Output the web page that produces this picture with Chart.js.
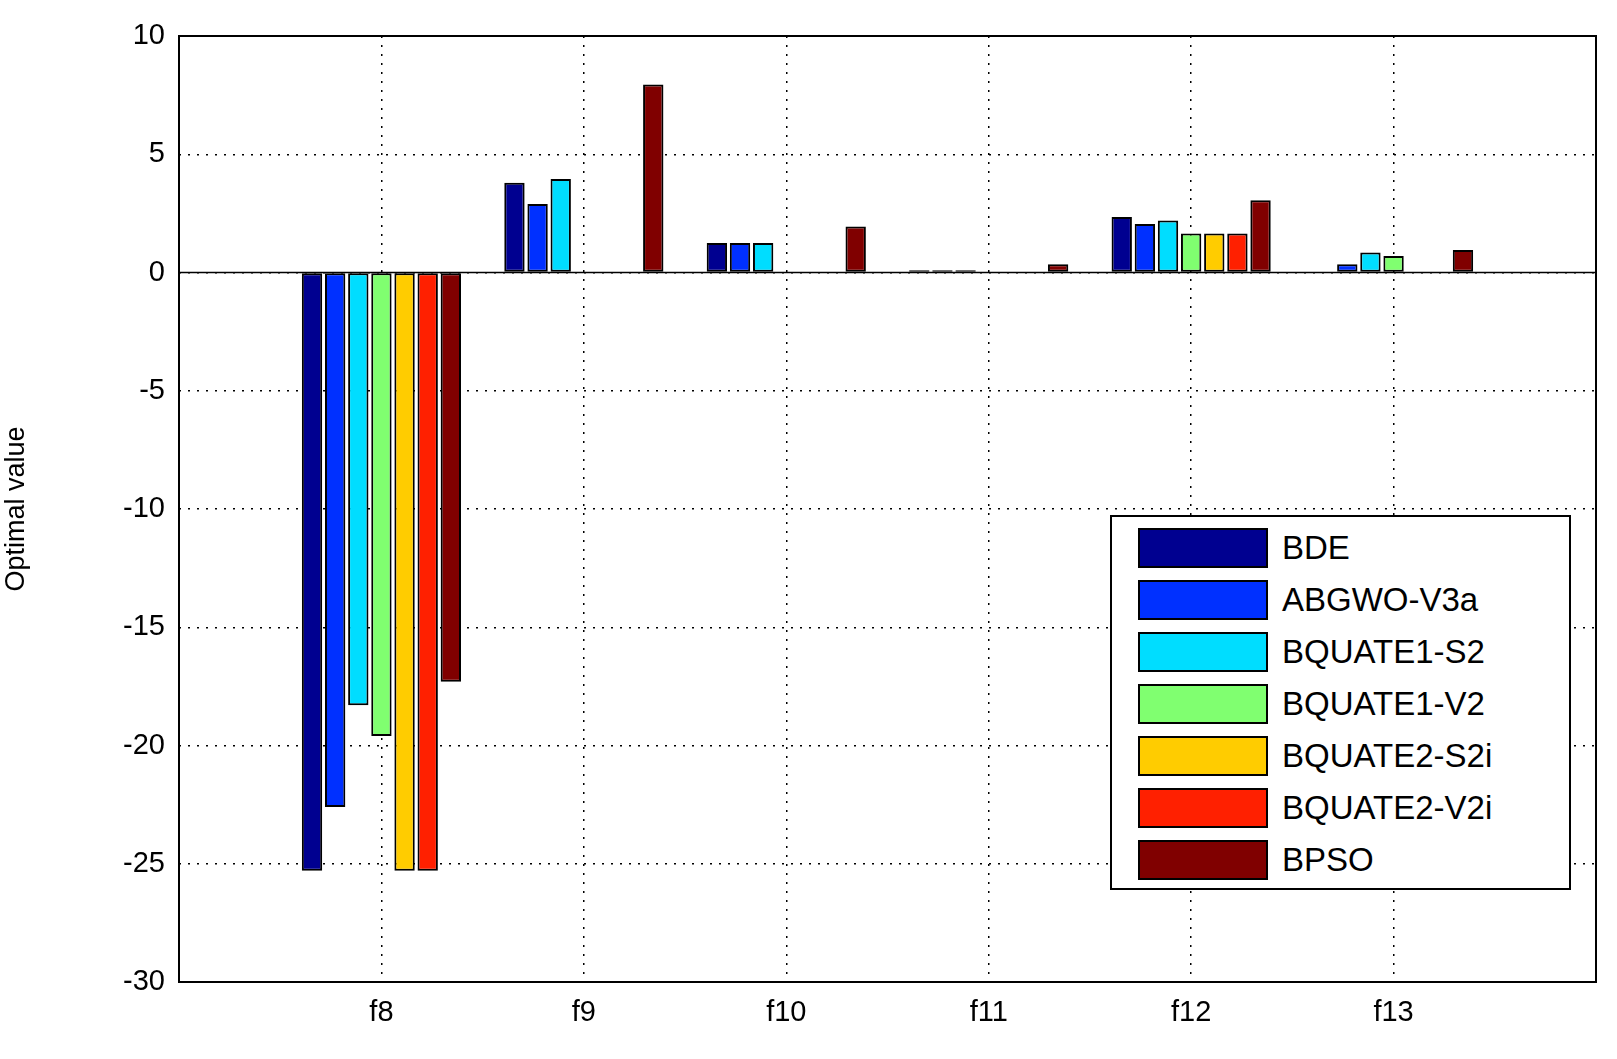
<!DOCTYPE html>
<html>
<head>
<meta charset="utf-8">
<script src="https://cdn.jsdelivr.net/npm/chart.js@4.4.1/dist/chart.umd.min.js"></script>
<style>
  body { margin: 0; background: #fff; }
  #wrap { position: relative; width: 1617px; height: 1059px; }
  #legend { position: absolute; left: 1110px; top: 515px; width: 457px; height: 371px;
    border: 2px solid #000; background: #fff; font-family: "Liberation Sans", Arial, sans-serif; font-size: 33px; }
  .row { position: absolute; left: 26px; height: 42px; display: flex; align-items: center; }
  .sw { width: 130px; height: 40px; border: 2px solid #000; margin-right: 14px; box-sizing: border-box; }
</style>
</head>
<body>
<div id="wrap">
  <canvas id="c" width="1617" height="1059"></canvas>
  <div id="legend"></div>
</div>
<script>
const categories = ['', 'f8', 'f9', 'f10', 'f11', 'f12', 'f13', ''];
const seriesNames = ['BDE', 'ABGWO-V3a', 'BQUATE1-S2', 'BQUATE1-V2', 'BQUATE2-S2i', 'BQUATE2-V2i', 'BPSO'];
const seriesColors = ['#000090', '#0030ff', '#00ddff', '#80ff70', '#ffcc00', '#ff2000', '#800000'];
const BDE =   [null, -25.3, 3.8, 1.25, 0.1, 2.35, 0, null];
const ABGWO = [null, -22.6, 2.9, 1.25, 0.1, 2.05, 0.35, null];
const Q1S2 =  [null, -18.3, 3.95, 1.25, 0.1, 2.2, 0.85, null];
const Q1V2 =  [null, -19.6, 0, 0, 0, 1.65, 0.7, null];
const Q2S2i = [null, -25.3, 0, 0, 0, 1.65, 0, null];
const Q2V2i = [null, -25.3, 0, 0, 0, 1.65, 0, null];
const BPSO =  [null, -17.3, 7.95, 1.95, 0.35, 3.05, 0.95, null];
const seriesData = [BDE, ABGWO, Q1S2, Q1V2, Q2S2i, Q2V2i, BPSO];
const yTicks = [10, 5, 0, -5, -10, -15, -20, -25, -30];

const legend = document.getElementById('legend');
seriesNames.forEach((n, i) => {
  const r = document.createElement('div');
  r.className = 'row';
  r.style.top = (10 + i * 52) + 'px';
  r.innerHTML = '<div class="sw" style="background:' + seriesColors[i] + '"></div><span>' + n + '</span>';
  legend.appendChild(r);
});

const frame = {
  id: 'frame',
  beforeDatasetsDraw(chart) {
    const { ctx, chartArea: a, scales } = chart;
    const y0 = scales.y.getPixelForValue(0);
    ctx.save();
    ctx.strokeStyle = '#000'; ctx.lineWidth = 1.5;
    ctx.beginPath(); ctx.moveTo(a.left, y0); ctx.lineTo(a.right, y0); ctx.stroke();
    ctx.restore();
  },
  afterDraw(chart) {
    const { ctx, chartArea: a } = chart;
    ctx.save();
    ctx.strokeStyle = '#000'; ctx.lineWidth = 2;
    ctx.strokeRect(a.left, a.top, a.right - a.left, a.bottom - a.top);
    ctx.restore();
  }
};

new Chart('c', {
  type: 'bar',
  data: {
    labels: categories,
    datasets: seriesNames.map((n, i) => ({
      label: n, data: seriesData[i], backgroundColor: seriesColors[i],
      borderColor: '#000', borderWidth: 2, borderSkipped: false,
      categoryPercentage: 0.8, barPercentage: 0.88
    }))
  },
  options: {
    responsive: false, animation: false,
    layout: { padding: { top: 36, right: 21, left: 0, bottom: 0 } },
    plugins: { legend: { display: false }, tooltip: { enabled: false } },
    scales: {
      x: {
        offset: false,
        grid: { color: '#000', lineWidth: 1.5, drawTicks: false, offset: false },
        border: { dash: [2, 7], display: false },
        ticks: { color: '#000', font: { family: 'Liberation Sans', size: 29 }, padding: 14 },
        afterFit(s) { s.height = 77; }
      },
      y: {
        min: -30, max: 10,
        afterBuildTicks(s) { s.ticks = yTicks.map(v => ({ value: v })); },
        grid: { color: '#000', lineWidth: 1.5, drawTicks: false },
        border: { dash: [2, 7], display: false },
        ticks: { color: '#000', font: { family: 'Liberation Sans', size: 29 }, padding: 14 },
        title: { display: true, text: 'Optimal value', color: '#000', padding: { top: 0, bottom: 0 },
          font: { family: 'Liberation Sans', size: 27 } },
        afterFit(s) { s.width = 179; }
      }
    }
  },
  plugins: [frame]
});
</script>
</body>
</html>
